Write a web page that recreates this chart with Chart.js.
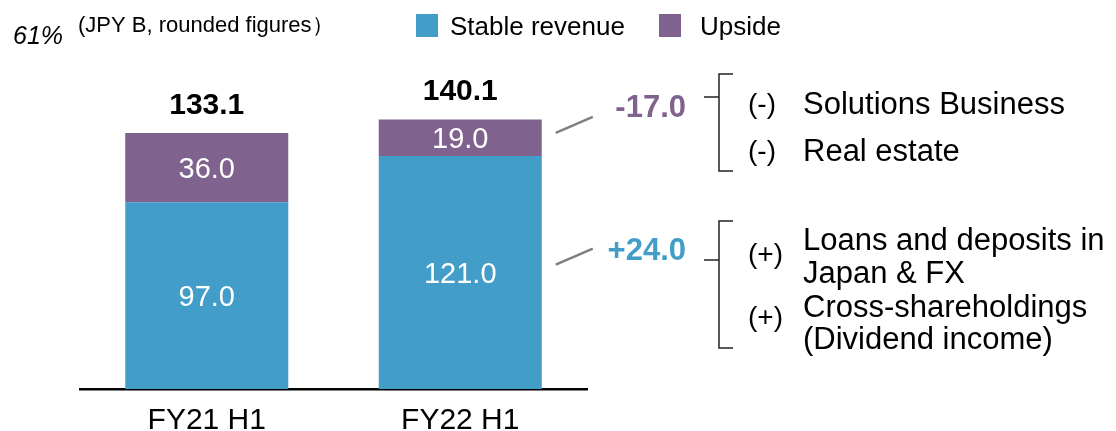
<!DOCTYPE html>
<html>
<head>
<meta charset="utf-8">
<script src="https://cdn.jsdelivr.net/npm/chart.js@4/dist/chart.umd.min.js"></script>
<style>
  body { margin: 0; background: #fff; }
</style>
</head>
<body>
<canvas id="chartIngresos" width="1116" height="431"></canvas>
<script>
// datos (JPY B)
const periodos = ['FY21 H1', 'FY22 H1'];
const estable = [97.0, 121.0];
const upside = [36.0, 19.0];
const totales = [133.1, 140.1];
const serieNombres = ['Stable revenue', 'Upside'];
const itemsMenos = ['Solutions Business', 'Real estate'];
const itemsMas = [['Loans and deposits in', 'Japan & FX'], ['Cross-shareholdings', '(Dividend income)']];

const azul = '#429dc9';
const morado = '#80628e';
const fuente = "'Liberation Sans', Arial, sans-serif";
Chart.defaults.font.family = fuente;

function texto(ctx, t, x, y, size, color, align, weight, style) {
    ctx.font = (style || '') + ' ' + (weight || '') + ' ' + size + 'px ' + fuente;
    ctx.fillStyle = color;
    ctx.textAlign = align || 'left';
    ctx.textBaseline = 'middle';
    ctx.fillText(t, x, y + 2.5);
}

function linea(ctx, pts, color, w) {
    ctx.beginPath();
    ctx.moveTo(pts[0][0], pts[0][1]);
    for (let i = 1; i < pts.length; i++) ctx.lineTo(pts[i][0], pts[i][1]);
    ctx.strokeStyle = color;
    ctx.lineWidth = w;
    ctx.stroke();
}

const rotulos = {
    id: 'rotulos',
    afterDatasetsDraw(chart) {
        const ctx = chart.ctx;
        ctx.save();
        const mE = chart.getDatasetMeta(0).data;
        const mU = chart.getDatasetMeta(1).data;

        // valores dentro de las barras y totales
        mE.forEach((b, i) => {
            texto(ctx, estable[i].toFixed(1), b.x, (b.y + b.base) / 2, 29, '#fff', 'center');
        });
        mU.forEach((b, i) => {
            texto(ctx, upside[i].toFixed(1), b.x, (b.y + b.base) / 2, 29, '#fff', 'center');
            texto(ctx, totales[i].toFixed(1), b.x, b.y - 30, 30, '#000', 'center', 'bold');
        });

        // cabecera
        texto(ctx, '61%', 13, 35, 25, '#000', 'left', '', 'italic');
        texto(ctx, '(JPY B, rounded figures）', 78, 23, 22, '#000', 'left');

        // leyenda
        ctx.fillStyle = azul;
        ctx.fillRect(416, 14, 22, 23);
        texto(ctx, serieNombres[0], 450, 25, 26, '#000');
        ctx.fillStyle = morado;
        ctx.fillRect(659, 14, 22, 23);
        texto(ctx, serieNombres[1], 700, 25, 26, '#000');

        // conectores desde la segunda barra
        const bU = mU[1], bE = mE[1];
        const xr = bU.x + bU.width / 2;
        const yU = (bU.y + bU.base) / 2 - 5;
        const yE = (bE.y + bE.base) / 2 - 8;
        linea(ctx, [[xr + 14, yU], [xr + 51, yU - 16]], '#7f7f7f', 2.5);
        linea(ctx, [[xr + 14, yE], [xr + 51, yE - 16]], '#7f7f7f', 2.5);

        const dU = upside[1] - upside[0];
        const dE = estable[1] - estable[0];
        texto(ctx, (dU > 0 ? '+' : '') + dU.toFixed(1), 686, 106, 31, morado, 'right', 'bold');
        texto(ctx, (dE > 0 ? '+' : '') + dE.toFixed(1), 686, 249, 31, azul, 'right', 'bold');

        // corchetes
        linea(ctx, [[733, 74], [719, 74], [719, 171], [733, 171]], '#222', 1.5);
        linea(ctx, [[704, 97], [719, 97]], '#222', 1.5);
        linea(ctx, [[733, 221], [719, 221], [719, 348], [733, 348]], '#222', 1.5);
        linea(ctx, [[704, 260], [719, 260]], '#222', 1.5);

        // explicaciones
        texto(ctx, '(-)', 748, 103, 28, '#000');
        texto(ctx, itemsMenos[0], 803, 103, 31, '#000');
        texto(ctx, '(-)', 748, 150, 28, '#000');
        texto(ctx, itemsMenos[1], 803, 150, 31, '#000');

        texto(ctx, '(+)', 748, 253, 28, '#000');
        texto(ctx, itemsMas[0][0], 803, 239, 31, '#000');
        texto(ctx, itemsMas[0][1], 803, 272, 31, '#000');
        texto(ctx, '(+)', 748, 316, 28, '#000');
        texto(ctx, itemsMas[1][0], 803, 306, 31, '#000');
        texto(ctx, itemsMas[1][1], 803, 338, 31, '#000');
        ctx.restore();
    }
};

new Chart(document.getElementById('chartIngresos'), {
    type: 'bar',
    data: {
        labels: periodos,
        datasets: [{
            label: serieNombres[0],
            data: estable,
            backgroundColor: azul,
            barPercentage: 0.643,
            categoryPercentage: 1
        }, {
            label: serieNombres[1],
            data: upside,
            backgroundColor: morado,
            barPercentage: 0.643,
            categoryPercentage: 1
        }]
    },
    options: {
        responsive: false,
        animation: false,
        layout: { padding: { left: 80, right: 529, top: 4, bottom: 0 } },
        plugins: {
            legend: { display: false },
            tooltip: { enabled: false }
        },
        scales: {
            x: {
                stacked: true,
                grid: { display: false, drawTicks: false },
                border: { display: true, color: '#000', width: 2.5 },
                ticks: { color: '#000', font: { size: 30 }, padding: 14 },
                afterFit: s => { s.height = 42; }
            },
            y: {
                stacked: true,
                display: false,
                min: 0,
                max: 200
            }
        }
    },
    plugins: [rotulos]
});
</script>
</body>
</html>
